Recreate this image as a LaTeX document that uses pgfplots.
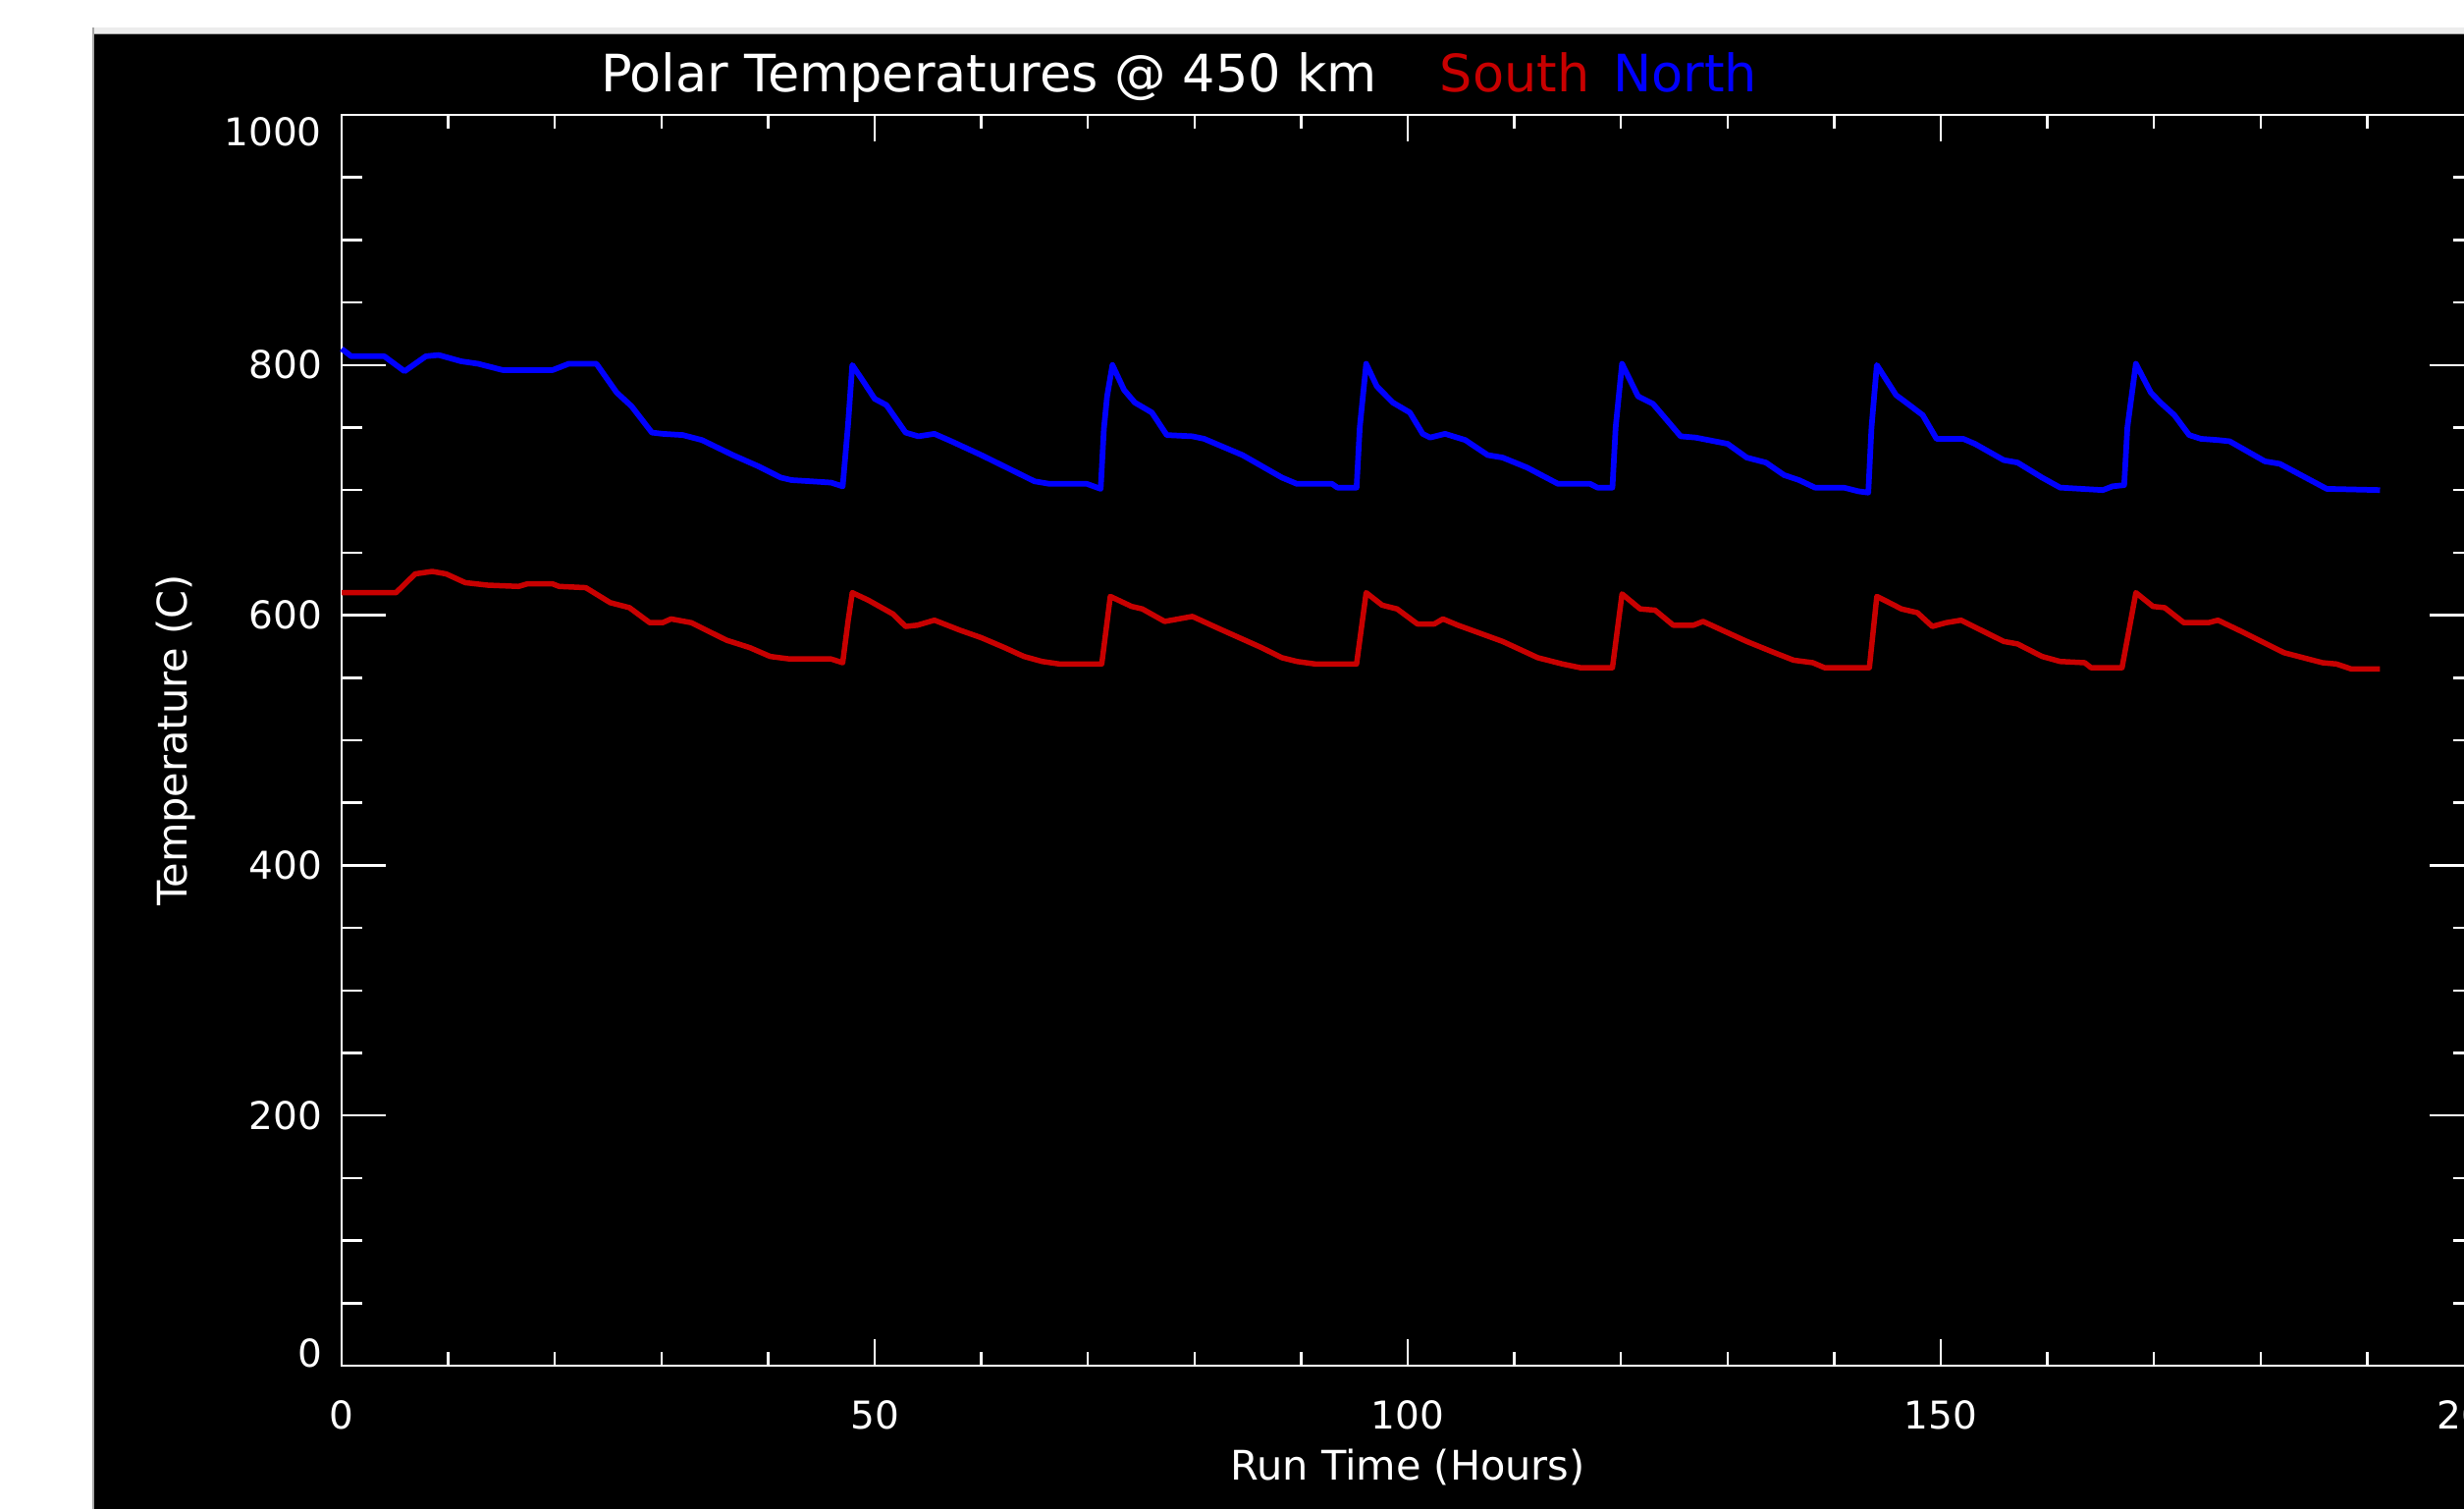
\documentclass[border=0pt]{standalone}
\usepackage{fontspec}
\setmainfont{DejaVu Sans}
\usepackage{pgfplots}
\pgfplotsset{compat=1.18}
\definecolor{idlred}{RGB}{200,0,0}
\definecolor{idlblue}{RGB}{0,0,255}
\definecolor{bandgray}{RGB}{236,236,236}
\begin{document}
\begin{tikzpicture}
\useasboundingbox (-69.6pt,-29.2pt) rectangle (432.4pt,278.2pt);
\begin{scope}
\clip (-69.6pt,-29.2pt) rectangle (432.4pt,278.2pt);
\fill[white] (-69.6pt,-29.2pt) rectangle (432.4pt,278.2pt);
\fill[black] (-50.4pt,-29.2pt) rectangle (432.4pt,271.2pt);
\fill[bandgray] (-50.8pt,271.2pt) rectangle (432.4pt,272.6pt);
\draw[gray!70,line width=0.3pt] (-50.6pt,-29.2pt) -- (-50.6pt,272.6pt);
\draw[gray!70,line width=0.3pt] (-50.6pt,271.3pt) -- (432.4pt,271.3pt);
\begin{axis}[
  at={(0pt,0pt)}, anchor=south west,
  scale only axis, width=434.4pt, height=254.8pt,
  xmin=0, xmax=200, ymin=0, ymax=1000,
  xtick={0,50,100,150,200}, ytick={0,200,400,600,800,1000},
  yticklabels={{\raisebox{-0.25pt}[0pt][0pt]{0}},200,400,600,800,{\raisebox{-6.25pt}[0pt][0pt]{1000}}},
  minor x tick num=4, minor y tick num=3,
  tick align=inside, tick pos=both,
  axis line style={white, line width=0.55pt},
  tick style={white, line width=0.5pt},
  xtick style={/pgfplots/major tick length=5.4pt, /pgfplots/minor tick length=2.8pt},
  ytick style={/pgfplots/major tick length=9pt, /pgfplots/minor tick length=4.2pt},
  /pgf/number format/assume math mode=true,
  /pgf/number format/1000 sep={},
  ticklabel style={white, font=\fontsize{7.8}{9}\selectfont},
  xticklabel style={yshift=-3.5pt},
  yticklabel style={xshift=-0.5pt},
  xlabel={Run Time (Hours)},
  ylabel={Temperature (C)},
  xlabel style={white, font=\fontsize{8.3}{10}\selectfont, at={(axis description cs:0.5,-0.0816)}, anchor=center},
  ylabel style={white, font=\fontsize{8.3}{10}\selectfont, at={(axis description cs:-0.0778,0.5)}, anchor=center},
  title={Polar Temperatures @ 450 km},
  every axis title shift=0pt,
  title style={white, font=\fontsize{10.5}{12}\selectfont, at={(axis description cs:0.1211,1.0188)}, anchor=base west, inner sep=0pt},
  clip=false,
]
\addplot[idlblue, line width=1.15pt, line join=round] coordinates {
(0,813) (0.9,807) (4.0,807) (5.9,795) (7.9,807) (9.1,808) (11.2,803) (12.8,801) (15.1,796) (19.8,796) (21.3,801) (23.9,801) (25.8,778) (27.2,767) (29.1,746) (30.1,745) (32.0,744) (33.8,740) (36.7,728) (39.1,719) (41.2,710) (42.2,708) (44.1,707) (45.9,706) (47.0,703) (47.5,752) (47.9,800) (49.0,786) (50.0,773) (51.1,768) (52.9,746) (54.1,743) (55.6,745) (57.2,739) (60.0,728) (65.0,707) (66.4,705) (69.9,705) (71.2,701) (71.5,749) (71.8,775) (72.3,800) (73.4,780) (74.4,770) (76.0,762) (77.4,744) (79.8,743) (80.9,741) (84.5,728) (88.2,710) (89.6,705) (92.9,705) (93.4,702) (95.2,702) (95.5,750) (96.1,801) (97.1,783) (98.6,770) (100.2,762) (101.4,745) (102.1,742) (103.5,745) (105.4,740) (107.5,728) (108.9,726) (111.2,718) (114.1,705) (117.1,705) (117.8,702) (119.2,702) (119.5,750) (120.1,801) (121.6,775) (123.0,769) (125.6,743) (127.0,742) (130.0,737) (131.8,726) (133.6,722) (135.3,712) (136.7,708) (138.2,702) (140.9,702) (142.3,699) (143.2,698) (143.5,750) (144.0,800) (145.8,776) (146.9,769) (148.3,760) (149.6,741) (152.1,741) (153.2,737) (155.9,724) (157.2,722) (159.5,710) (161.2,702) (165.2,700) (166.1,703) (167.2,704) (167.5,750) (168.3,801) (169.7,778) (170.6,770) (171.9,760) (173.3,744) (174.4,741) (176.0,740) (177.1,739) (180.4,723) (181.8,721) (186.2,701) (191.2,700)
};
\addplot[idlred, line width=1.1pt, line join=round] coordinates {
(0,618) (5.1,618) (6.9,633) (8.5,635) (9.8,633) (11.6,626) (13.7,624) (16.6,623) (17.4,625) (19.8,625) (20.4,623) (22.9,622) (25.2,610) (27.0,606) (28.9,594) (30.1,594) (30.9,597) (32.8,594) (36.1,580) (38.3,574) (40.2,567) (42.0,565) (45.9,565) (47.0,562) (47.5,595) (47.9,618) (49.4,612) (51.7,601) (52.9,591) (54.0,592) (55.6,596) (58.0,588) (60.0,582) (62.2,574) (64.0,567) (65.7,563) (67.3,561) (71.3,561) (72.1,615) (74.1,607) (75.1,605) (77.2,595) (79.8,599) (82.1,590) (86.3,574) (88.2,566) (89.6,563) (91.3,561) (95.2,561) (96.1,618) (97.6,608) (99.0,605) (100.9,593) (102.5,593) (103.3,597) (104.7,592) (108.9,579) (112.2,566) (114.5,561) (116.2,558) (119.2,558) (120.1,617) (121.8,605) (123.2,604) (124.9,592) (126.8,592) (127.7,595) (131.8,579) (134.4,570) (136.2,564) (138.0,562) (139.1,558) (143.3,558) (144.0,615) (145.4,609) (146.3,605) (147.8,602) (149.2,591) (150.5,594) (151.9,596) (155.9,579) (157.2,577) (159.5,567) (161.2,563) (163.5,562) (164.1,558) (167.0,558) (168.3,618) (169.9,607) (171.0,606) (172.8,594) (175.1,594) (176.0,596) (178.2,587) (182.2,570) (184.0,566) (185.8,562) (187.1,561) (188.5,557) (191.2,557)
};
\node[idlred, font=\fontsize{10.5}{12}\selectfont, anchor=base west, inner sep=0pt] at (axis description cs:0.5147,1.0188) {South};
\node[idlblue, font=\fontsize{10.5}{12}\selectfont, anchor=base west, inner sep=0pt] at (axis description cs:0.5958,1.0188) {North};
\end{axis}
\end{scope}
\end{tikzpicture}
\end{document}
